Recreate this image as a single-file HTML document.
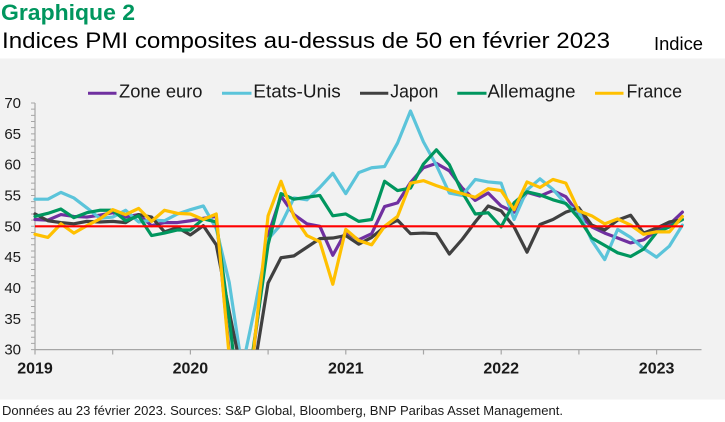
<!DOCTYPE html>
<html>
<head>
<meta charset="utf-8">
<style>
  html, body { margin: 0; padding: 0; background: #ffffff; width: 725px; height: 422px; overflow: hidden; }
  svg { display: block; }
  text { font-family: "Liberation Sans", "DejaVu Sans", sans-serif; }
</style>
</head>
<body>
<svg width="725" height="422" viewBox="0 0 725 422" xmlns="http://www.w3.org/2000/svg">
  <defs>
    <clipPath id="plotclip">
      <rect x="0" y="95" width="725" height="254.6"/>
    </clipPath>
  </defs>

  <!-- Titles -->
  <text x="1" y="20" font-size="22" font-weight="bold" fill="#00965e" textLength="134" lengthAdjust="spacingAndGlyphs">Graphique 2</text>
  <text x="2" y="48" font-size="22" fill="#000000" textLength="608" lengthAdjust="spacingAndGlyphs">Indices PMI composites au-dessus de 50 en février 2023</text>
  <text x="654" y="50" font-size="18" fill="#000000" textLength="49" lengthAdjust="spacingAndGlyphs">Indice</text>

  <!-- Chart background -->
  <rect x="0" y="58.5" width="725" height="341" fill="#f2f2f2"/>

  <!-- Legend -->
  <g font-size="18" fill="#1a1a1a">
    <line x1="88" y1="93.3" x2="116.5" y2="93.3" stroke="#7030a0" stroke-width="3"/>
    <text x="119" y="97.7" textLength="83.5" lengthAdjust="spacingAndGlyphs">Zone euro</text>
    <line x1="222" y1="93.3" x2="251.5" y2="93.3" stroke="#5bc4da" stroke-width="3"/>
    <text x="253.3" y="97.7" textLength="87.5" lengthAdjust="spacingAndGlyphs">Etats-Unis</text>
    <line x1="360" y1="93.3" x2="388.3" y2="93.3" stroke="#404040" stroke-width="3"/>
    <text x="390.3" y="97.7" textLength="48" lengthAdjust="spacingAndGlyphs">Japon</text>
    <line x1="457.3" y1="93.3" x2="486.5" y2="93.3" stroke="#00965e" stroke-width="3"/>
    <text x="487.5" y="97.7" textLength="88" lengthAdjust="spacingAndGlyphs">Allemagne</text>
    <line x1="595" y1="93.3" x2="623.5" y2="93.3" stroke="#ffc000" stroke-width="3"/>
    <text x="626.5" y="97.7" textLength="55.5" lengthAdjust="spacingAndGlyphs">France</text>
  </g>

  <!-- Y axis -->
  <line x1="35" y1="103" x2="35" y2="349.6" stroke="#a6a6a6" stroke-width="1.2"/>
  <line x1="33" y1="350.1" x2="33" y2="102.4" stroke="#a6a6a6" stroke-width="4" stroke-dasharray="1 5.165"/>
  <g font-size="15" fill="#1a1a1a" text-anchor="end">
    <text x="21" y="108">70</text>
    <text x="21" y="138.8">65</text>
    <text x="21" y="169.7">60</text>
    <text x="21" y="200.5">55</text>
    <text x="21" y="231.3">50</text>
    <text x="21" y="262.1">45</text>
    <text x="21" y="293">40</text>
    <text x="21" y="323.8">35</text>
    <text x="21" y="354.6">30</text>
  </g>

  <!-- X axis -->
  <line x1="35" y1="349.6" x2="701.5" y2="349.6" stroke="#a6a6a6" stroke-width="1.2"/>
  <g stroke="#a6a6a6" stroke-width="1.2">
    <line x1="35" y1="349.6" x2="35" y2="354.5"/>
    <line x1="112.7" y1="349.6" x2="112.7" y2="354.5"/>
    <line x1="190.4" y1="349.6" x2="190.4" y2="354.5"/>
    <line x1="268.1" y1="349.6" x2="268.1" y2="354.5"/>
    <line x1="345.8" y1="349.6" x2="345.8" y2="354.5"/>
    <line x1="423.5" y1="349.6" x2="423.5" y2="354.5"/>
    <line x1="501.2" y1="349.6" x2="501.2" y2="354.5"/>
    <line x1="578.9" y1="349.6" x2="578.9" y2="354.5"/>
    <line x1="656.6" y1="349.6" x2="656.6" y2="354.5"/>
  </g>
  <g font-size="16" font-weight="bold" fill="#1a1a1a" text-anchor="middle">
    <text x="35" y="373.5">2019</text>
    <text x="190.4" y="373.5">2020</text>
    <text x="345.8" y="373.5">2021</text>
    <text x="501.2" y="373.5">2022</text>
    <text x="656.6" y="373.5">2023</text>
  </g>

  <!-- Series -->
  <g clip-path="url(#plotclip)">
    <g transform="matrix(12.948 0 0 -6.165 35 534.55)" fill="none" stroke-linejoin="round" stroke-linecap="round">
      <polyline vector-effect="non-scaling-stroke" stroke="#7030a0" stroke-width="3.2"
        points="0,51.1 1,51.0 2,51.9 3,51.6 4,51.5 5,51.8 6,52.2 7,51.5 8,51.9 9,50.1 10,50.6 11,50.6 12,50.9 13,51.3 14,51.6 15,29.7 15.0435,29 16.8415,29 17,31.9 18,48.5 19,54.9 20,51.9 21,50.4 22,50.0 23,45.3 24,49.1 25,47.8 26,48.8 27,53.2 28,53.8 29,57.1 30,59.5 31,60.2 32,59.0 33,56.2 34,54.2 35,55.4 36,53.3 37,52.3 38,55.5 39,54.9 40,55.8 41,54.8 42,52.0 43,49.9 44,48.9 45,48.1 46,47.3 47,47.8 48,49.3 49,50.3 50,52.3"/>
      <polyline vector-effect="non-scaling-stroke" stroke="#5bc4da" stroke-width="3.2"
        points="0,54.4 1,54.4 2,55.5 3,54.6 4,53.0 5,51.3 6,51.5 7,52.6 8,50.7 9,51.0 10,50.9 11,52.0 12,52.7 13,53.3 14,49.6 15,40.9 15.856,29 16.2,29 17,37.0 18,47.9 19,50.3 20,54.6 21,54.3 22,56.3 23,58.6 24,55.3 25,58.7 26,59.5 27,59.7 28,63.5 29,68.7 30,63.7 31,59.9 32,55.4 33,55.0 34,57.6 35,57.2 36,57.0 37,51.1 38,55.9 39,57.7 40,56.0 41,53.6 42,52.3 43,47.7 44,44.6 45,49.5 46,48.2 47,46.4 48,45.0 49,46.8 50,50.2"/>
      <polyline vector-effect="non-scaling-stroke" stroke="#404040" stroke-width="3.2"
        points="0,52.0 1,50.9 2,50.6 3,50.4 4,50.8 5,50.7 6,50.8 7,50.6 8,51.9 9,51.5 10,49.1 11,49.8 12,48.6 13,50.1 14,47.0 15,36.2 15.692,29 17.092,29 18,40.8 19,44.9 20,45.2 21,46.6 22,48.0 23,48.1 24,48.5 25,47.1 26,48.2 27,49.9 28,51.0 29,48.8 30,48.9 31,48.8 32,45.5 33,47.9 34,50.7 35,53.3 36,52.5 37,49.9 38,45.8 39,50.3 40,51.1 41,52.3 42,53.0 43,50.2 44,49.4 45,51.0 46,51.8 47,48.9 48,49.7 49,50.7 50,51.1"/>
      <polyline vector-effect="non-scaling-stroke" stroke="#00965e" stroke-width="3.2"
        points="0,51.6 1,52.1 2,52.8 3,51.4 4,52.2 5,52.6 6,52.6 7,50.9 8,51.7 9,48.5 10,48.9 11,49.4 12,49.4 13,51.2 14,50.7 15,35.0 15.341,29 16.7785,29 17,32.3 18,47.0 19,55.3 20,54.4 21,54.7 22,55.0 23,51.7 24,52.0 25,50.8 26,51.1 27,57.3 28,55.8 29,56.2 30,60.1 31,62.4 32,60.0 33,55.5 34,52.0 35,52.2 36,49.9 37,53.8 38,55.6 39,55.1 40,54.3 41,53.7 42,51.3 43,48.1 44,46.9 45,45.7 46,45.1 47,46.3 48,49.0 49,49.9 50,51.1"/>
      <polyline vector-effect="non-scaling-stroke" stroke="#ffc000" stroke-width="3.2"
        points="0,48.7 1,48.2 2,50.4 3,48.9 4,50.1 5,51.2 6,52.7 7,51.9 8,52.9 9,50.8 10,52.6 11,52.1 12,52.0 13,51.1 14,52.0 14.9957,29 16.852,29 17,32.1 18,51.7 19,57.3 20,51.6 21,48.5 22,47.5 23,40.6 24,49.5 25,47.7 26,47.0 27,50.0 28,51.6 29,57.0 30,57.4 31,56.6 32,55.9 33,55.3 34,54.7 35,56.1 36,55.8 37,52.7 38,57.2 39,56.3 40,57.6 41,57.0 42,52.5 43,51.7 44,50.4 45,51.2 46,50.2 47,48.7 48,49.1 49,49.1 50,51.6"/>
    </g>
  </g>

  <!-- 50 reference line -->
  <line x1="35" y1="226.3" x2="683" y2="226.3" stroke="#ff0000" stroke-width="2.2"/>

  <!-- Footer -->
  <text x="2" y="415" font-size="13" fill="#1a1a1a" textLength="561" lengthAdjust="spacingAndGlyphs">Données au 23 février 2023. Sources: S&amp;P Global, Bloomberg, BNP Paribas Asset Management.</text>
</svg>
</body>
</html>
